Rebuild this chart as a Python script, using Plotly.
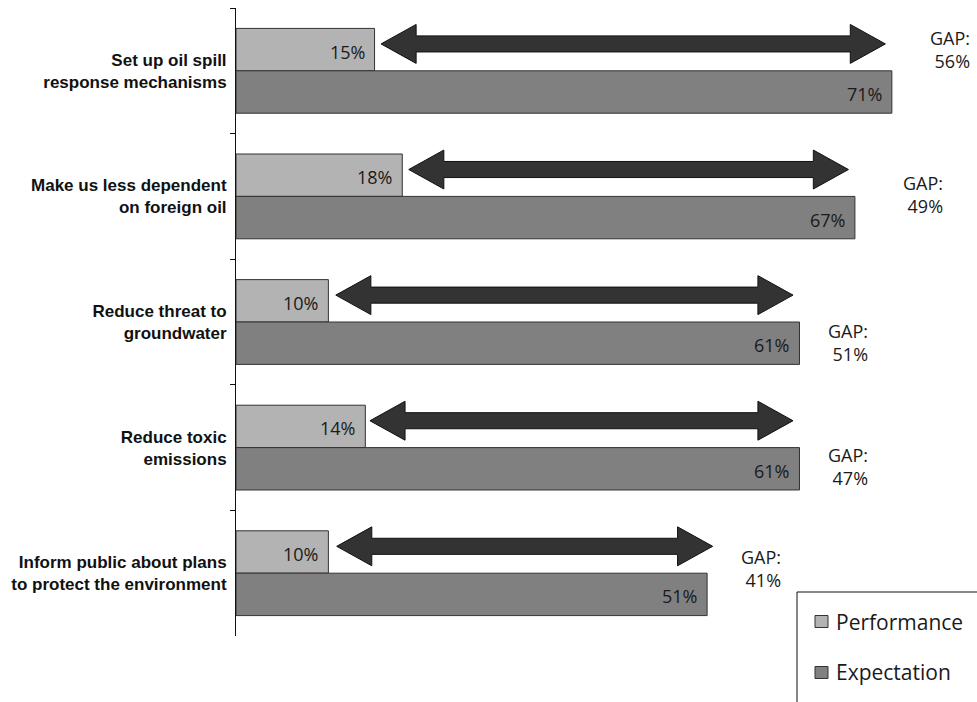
import plotly.graph_objects as go

# Survey items (top to bottom) and the two measured series, in percent
categories = [
    "Set up oil spill<br>response mechanisms",
    "Make us less dependent<br>on foreign oil",
    "Reduce threat to<br>groundwater",
    "Reduce toxic<br>emissions",
    "Inform public about plans<br>to protect the environment",
]
performance = [15, 18, 10, 14, 10]
expectation = [71, 67, 61, 61, 51]
series_names = ["Performance", "Expectation"]

# Extent of each double-headed gap arrow, in percent
arrow_start = [15.7, 18.7, 10.8, 14.5, 10.9]
arrow_end = [70.3, 66.3, 60.3, 60.3, 51.6]

gaps = [e - p for p, e in zip(performance, expectation)]

# Hand placement of the GAP call-outs: (x offset in %, y shift in px)
gap_nudge = [(8.7, 21), (9.8, 2), (7.6, -20), (7.6, -19), (8.2, 5)]

W, H = 977, 702
ML, MR, MT, MB = 236, 2, 8, 66
LIGHT = "#b3b3b3"
DARK = "#808080"
ARROW = "#333333"
TEXT = "#1a1a1a"
SANS = "Open Sans, sans-serif"
VALUE_FONT = dict(family=SANS, size=18, color=TEXT)


def px_x(x):
    """Pixel column -> paper x."""
    return (x - ML) / (W - ML - MR)


def px_y(y):
    """Pixel row -> paper y."""
    return (H - MB - y) / (H - MT - MB)


fig = go.Figure()
for name, vals, col in zip(series_names, [performance, expectation], [LIGHT, DARK]):
    fig.add_trace(go.Bar(
        y=categories, x=vals, orientation="h", name=name,
        marker=dict(color=col, line=dict(color="#333333", width=1)),
        hoverinfo="skip", showlegend=False,
    ))

BAR_OFF = 0.169      # half of one bar's thickness, in category units
ARROW_DY = 0.214     # arrow centre above the category centre
HEAD_LEN = 3.8       # arrow head length, percent
HEAD_HALF = 0.155    # arrow head half height
SHAFT_HALF = 0.064   # arrow shaft half height

shapes = []
annotations = []
for i in range(len(categories)):
    # value labels inside the end of each bar
    for val, off in ((performance[i], -BAR_OFF), (expectation[i], BAR_OFF)):
        annotations.append(dict(
            x=val, y=i + off, xref="x", yref="y",
            text=f"{val}%", showarrow=False, xanchor="right",
            xshift=-8, yshift=-2, font=VALUE_FONT,
        ))

    # double-headed arrow spanning the gap
    c = i - ARROW_DY
    x0, x1 = arrow_start[i], arrow_end[i]
    pts = [
        (x0, c), (x0 + HEAD_LEN, c - HEAD_HALF), (x0 + HEAD_LEN, c - SHAFT_HALF),
        (x1 - HEAD_LEN, c - SHAFT_HALF), (x1 - HEAD_LEN, c - HEAD_HALF), (x1, c),
        (x1 - HEAD_LEN, c + HEAD_HALF), (x1 - HEAD_LEN, c + SHAFT_HALF),
        (x0 + HEAD_LEN, c + SHAFT_HALF), (x0 + HEAD_LEN, c + HEAD_HALF),
    ]
    path = "M " + " L ".join(f"{x},{y}" for x, y in pts) + " Z"
    shapes.append(dict(
        type="path", path=path, xref="x", yref="y",
        fillcolor=ARROW, line=dict(color="#111111", width=1),
    ))

    # GAP call-out to the right of the expectation bar
    dx, dy = gap_nudge[i]
    annotations.append(dict(
        x=expectation[i] + dx, y=i, xref="x", yref="y",
        text=f"GAP:<br>{gaps[i]}%", showarrow=False,
        xanchor="right", yanchor="middle", align="right", yshift=dy,
        font=dict(family=SANS, size=18, color=TEXT),
    ))

# Legend panel in the lower right corner, running off the page edge
shapes.append(dict(
    type="rect", xref="paper", yref="paper",
    x0=px_x(797), x1=px_x(995), y0=px_y(592), y1=px_y(720),
    line=dict(color="#111111", width=1), fillcolor="white", layer="above",
))
for name, col, yc in zip(series_names, [LIGHT, DARK], [621.5, 672.5]):
    shapes.append(dict(
        type="rect", xref="paper", yref="paper",
        x0=px_x(815), x1=px_x(828), y0=px_y(yc - 6), y1=px_y(yc + 6),
        line=dict(color="#333333", width=1), fillcolor=col, layer="above",
    ))
    annotations.append(dict(
        x=px_x(834), y=px_y(yc), xref="paper", yref="paper",
        text=name, showarrow=False, xanchor="left", yanchor="middle",
        font=dict(family=SANS, size=21, color=TEXT),
    ))

fig.update_layout(
    width=W, height=H,
    margin=dict(l=ML, r=MR, t=MT, b=MB, autoexpand=False),
    paper_bgcolor="white", plot_bgcolor="white",
    barmode="group", bargap=0.325, bargroupgap=0,
    shapes=shapes, annotations=annotations,
    xaxis=dict(range=[0, 80], visible=False, fixedrange=True),
    yaxis=dict(
        autorange="reversed", showline=True, linecolor="#111111", linewidth=1,
        ticks="outside", ticklen=5, tickcolor="#111111", tickwidth=1,
        tickson="boundaries", showgrid=False, ticklabelstandoff=5,
        tickfont=dict(family="Liberation Sans, Arial, sans-serif", size=17,
                      color="#111111", weight="bold"),
    ),
    showlegend=False,
)

fig.write_html("out.html")
